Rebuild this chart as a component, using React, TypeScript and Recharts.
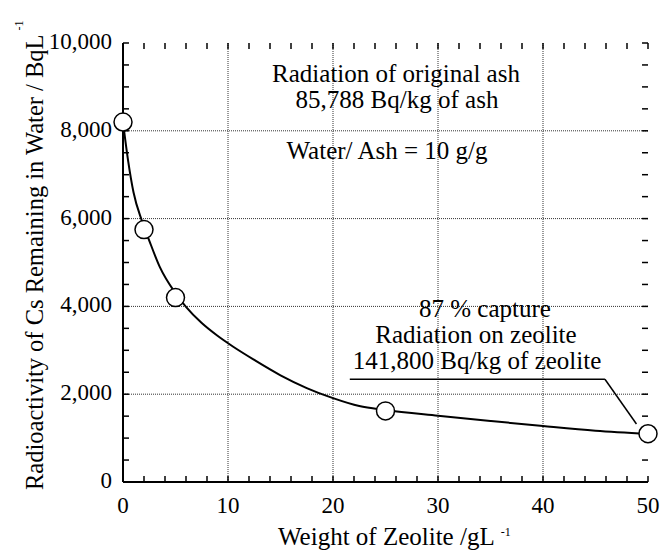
import React from "react";
import { ComposedChart, Line, Scatter, XAxis, YAxis, CartesianGrid, ReferenceLine } from "recharts";

// measured points (open circles)
const pointX = [0, 2, 5, 25, 50];
const pointY = [8200, 5750, 4200, 1620, 1100];

// fitted curve
const curveX = [0, 0.5, 1, 1.8, 2.5, 3.5, 5, 6, 7.5, 9, 10.5, 12.5, 15, 17.5, 20, 22.5, 25, 30, 35, 40, 45, 50];
const curveY = [8200, 7300, 6600, 5950, 5500, 4900, 4300, 3990, 3620, 3330, 3080, 2780, 2430, 2140, 1910, 1730, 1640, 1510, 1390, 1275, 1170, 1100];

const xTicks = [0, 2, 4, 6, 8, 10, 12, 14, 16, 18, 20, 22, 24, 26, 28, 30, 32, 34, 36, 38, 40, 42, 44, 46, 48, 50];
const yTicks = [0, 500, 1000, 1500, 2000, 2500, 3000, 3500, 4000, 4500, 5000, 5500, 6000, 6500, 7000, 7500, 8000, 8500, 9000, 9500, 10000];
const xLabels = [0, 10, 20, 30, 40, 50];
const yLabels = [0, 2000, 4000, 6000, 8000, 10000];
const xGrid = [10, 20, 30, 40];
const yGrid = [2000, 4000, 6000, 8000];

// leader line under the zeolite note: underline then pointer to last point
const leaderX = [21.6, 45.9, 48.9];
const leaderY = [2340, 2340, 1320];

const points = pointX.map((x, i) => ({ x, y: pointY[i] }));
const curve = curveX.map((x, i) => ({ x, y: curveY[i] }));

const FONT = "'Liberation Serif', 'Times New Roman', Times, serif";
const serif = { fontFamily: FONT };

// inward tick length, in data units (about 6 px)
const TX = 0.57;
const TY = 137;

const xLabel = (props: any) => {
  const { x, y, payload } = props;
  return (
    <text x={x} y={y + 31} textAnchor="middle" fontSize={23} fill="#000" style={serif}>
      {payload.value}
    </text>
  );
};

const yLabel = (props: any) => {
  const { x, y, payload } = props;
  return (
    <text x={x - 11} y={y + 6} textAnchor="end" fontSize={23} fill="#000" style={serif}>
      {payload.value.toLocaleString("en-US")}
    </text>
  );
};

const circle = (p: any) => <circle cx={p.cx} cy={p.cy} r={9} fill="#fff" stroke="#000" strokeWidth={1.5} />;

const axisLine = { stroke: "#000", strokeWidth: 2 };

export default function App() {
  return (
    <div style={{ position: "absolute", left: 0, top: 0, background: "#fff" }}>
      <ComposedChart width={663} height={554} margin={{ top: 43, right: 15, bottom: 0, left: 0 }}>
        <CartesianGrid
          verticalValues={xGrid}
          horizontalValues={yGrid}
          stroke="#333"
          strokeDasharray="1 1"
          strokeWidth={1}
        />
        <XAxis
          type="number"
          dataKey="x"
          domain={[0, 50]}
          ticks={xLabels}
          height={72}
          tickSize={0}
          tickMargin={0}
          tickLine={false}
          axisLine={axisLine}
          tick={xLabel}
          interval={0}
        />
        <XAxis xAxisId="top" orientation="top" type="number" domain={[0, 50]} height={0} tick={false} tickLine={false} axisLine={axisLine} />
        <YAxis
          type="number"
          domain={[0, 10000]}
          ticks={yLabels}
          width={123}
          tickSize={0}
          tickMargin={0}
          tickLine={false}
          axisLine={axisLine}
          tick={yLabel}
          interval={0}
        />
        <YAxis yAxisId="right" orientation="right" type="number" domain={[0, 10000]} width={0} tick={false} tickLine={false} axisLine={axisLine} />

        {xTicks.map((v) => (
          <ReferenceLine key={"b" + v} segment={[{ x: v, y: 0 }, { x: v, y: TY }]} stroke="#000" strokeWidth={1.5} ifOverflow="visible" />
        ))}
        {xTicks.map((v) => (
          <ReferenceLine key={"t" + v} segment={[{ x: v, y: 10000 }, { x: v, y: 10000 - TY }]} stroke="#000" strokeWidth={1.5} ifOverflow="visible" />
        ))}
        {yTicks.map((v) => (
          <ReferenceLine key={"l" + v} segment={[{ x: 0, y: v }, { x: TX, y: v }]} stroke="#000" strokeWidth={1.5} ifOverflow="visible" />
        ))}
        {yTicks.map((v) => (
          <ReferenceLine key={"r" + v} segment={[{ x: 50, y: v }, { x: 50 - TX, y: v }]} stroke="#000" strokeWidth={1.5} ifOverflow="visible" />
        ))}

        <ReferenceLine
          segment={[{ x: leaderX[0], y: leaderY[0] }, { x: leaderX[1], y: leaderY[1] }]}
          stroke="#000"
          strokeWidth={1.5}
          ifOverflow="visible"
        />
        <ReferenceLine
          segment={[{ x: leaderX[1], y: leaderY[1] }, { x: leaderX[2], y: leaderY[2] }]}
          stroke="#000"
          strokeWidth={1.5}
          ifOverflow="visible"
        />
        <Line
          data={curve}
          dataKey="y"
          type="monotone"
          stroke="#000"
          strokeWidth={2}
          dot={false}
          isAnimationActive={false}
        />
        <Scatter data={points} dataKey="y" shape={circle} isAnimationActive={false} />

        <text fontSize={25} fill="#000" textAnchor="middle" style={serif}>
          <tspan x={396} y={82}>Radiation of original ash</tspan>
          <tspan x={397} y={108}>85,788 Bq/kg of ash</tspan>
          <tspan x={387} y={159}>Water/ Ash = 10 g/g</tspan>
          <tspan x={485} y={317}>87 % capture</tspan>
          <tspan x={476} y={343}>Radiation on zeolite</tspan>
          <tspan x={477} y={369}>141,800 Bq/kg of zeolite</tspan>
        </text>
        <text x={278} y={545} fontSize={25} fill="#000" style={serif}>
          Weight of Zeolite /gL
          <tspan dx={6} dy={-9} fontSize={12}>-1</tspan>
        </text>
        <text transform="rotate(-90)" x={-490} y={43} fontSize={24.5} fill="#000" style={serif}>
          Radioactivity of Cs Remaining in Water / BqL
          <tspan dx={4} dy={-20} fontSize={12}>-1</tspan>
        </text>
      </ComposedChart>
    </div>
  );
}
